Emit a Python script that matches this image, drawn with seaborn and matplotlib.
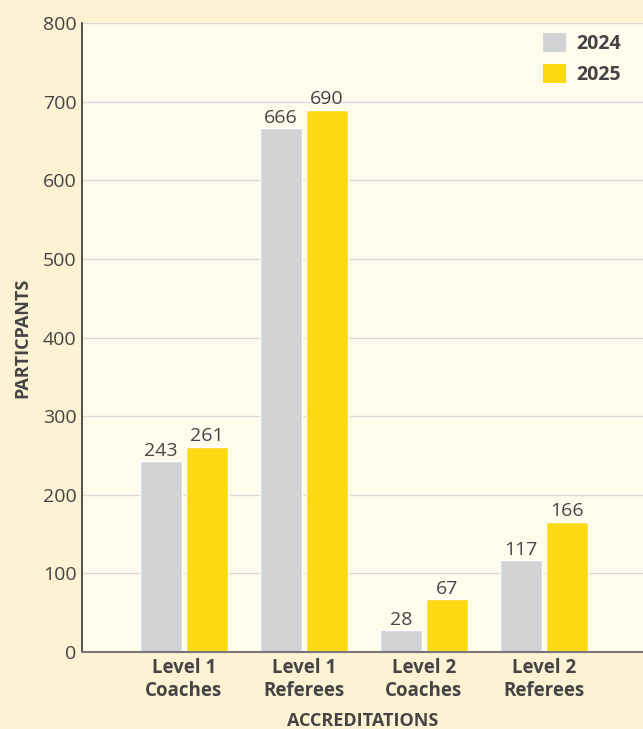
import matplotlib
matplotlib.use("Agg")
import matplotlib.pyplot as plt
import seaborn as sns
import pandas as pd
from matplotlib.patches import Patch

categories = ["Level 1\nCoaches", "Level 1\nReferees", "Level 2\nCoaches", "Level 2\nReferees"]
years = ["2024", "2025"]
values_2024 = [243, 666, 28, 117]
values_2025 = [261, 690, 67, 166]
y_ticks = [0, 100, 200, 300, 400, 500, 600, 700, 800]

df = pd.DataFrame({
    "category": categories * 2,
    "year": [years[0]] * 4 + [years[1]] * 4,
    "value": values_2024 + values_2025,
})

sns.set_theme(style="white")
plt.rcParams["font.family"] = ["Open Sans", "DejaVu Sans"]

text_color = "#444444"
colors = {"2024": "#D1D3D4", "2025": "#FFD814"}

fig = plt.figure(figsize=(6.43, 7.29), dpi=100, facecolor="#FDF2D4")
ax = fig.add_axes([0.1275, 0.1056, 0.8725, 0.8628])
ax.set_facecolor("#FFFCEE")

sns.barplot(data=df, x="category", y="value", hue="year", palette=colors,
            width=0.76, gap=0.08, ax=ax, legend=False, saturation=1)

for cont in ax.containers:
    ax.bar_label(cont, fmt="%d", fontsize=14, color=text_color, padding=1)

ax.set_ylim(0, 800)
ax.set_xlim(-0.85, 3.825)
ax.set_yticks(y_ticks)
ax.set_yticklabels([str(t) for t in y_ticks], fontsize=14, color=text_color)
ax.tick_params(axis="y", length=0, pad=4)
ax.tick_params(axis="x", length=0, pad=4)
for lab in ax.get_xticklabels():
    lab.set_fontsize(13.5)
    lab.set_fontweight("bold")
    lab.set_color(text_color)
    lab.set_linespacing(1.2)

ax.yaxis.grid(True, color="#D9D9D9", linewidth=1)
ax.set_axisbelow(True)
for s in ["top", "right"]:
    ax.spines[s].set_visible(False)
ax.spines["left"].set_color("#333333")
ax.spines["left"].set_linewidth(1.2)
ax.spines["bottom"].set_color("#777777")
ax.spines["bottom"].set_linewidth(1.5)

ax.set_xlabel("ACCREDITATIONS", fontsize=13, fontweight="bold", color=text_color, labelpad=8)
ax.set_ylabel("PARTICPANTS", fontsize=13, fontweight="bold", color=text_color, labelpad=8)

handles = [Patch(facecolor=colors[y], edgecolor="none") for y in years]
leg = ax.legend(handles, years, loc="upper right", frameon=False,
                prop={"size": 14, "weight": "bold"}, handlelength=1.15, handleheight=1.15,
                handletextpad=0.55, labelspacing=0.5, borderaxespad=0.5,
                bbox_to_anchor=(0.992, 1.012))
for t in leg.get_texts():
    t.set_color(text_color)

fig.savefig("out.png", dpi=100, facecolor=fig.get_facecolor())
